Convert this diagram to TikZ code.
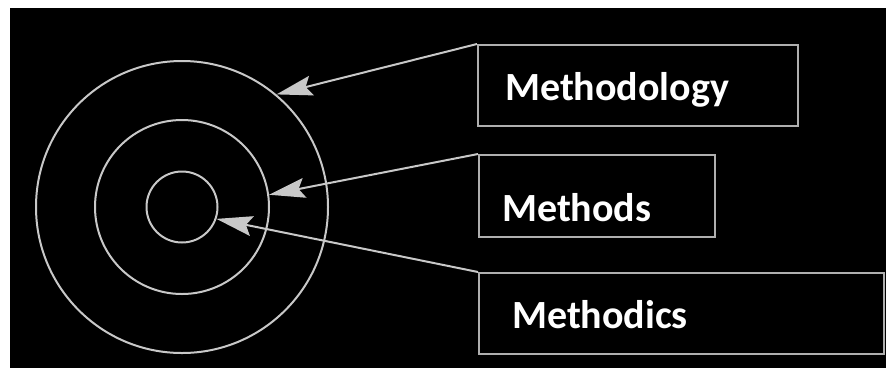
\documentclass[tikz,border=0pt]{standalone}
\usepackage{fontspec}
\setmainfont{Carlito}
\usetikzlibrary{arrows.meta}
\definecolor{ringgray}{RGB}{200,200,200}
\definecolor{boxgray}{RGB}{175,175,175}
\tikzset{
  ring/.style={draw=ringgray, line width=2pt, circle, inner sep=0pt},
  labelbox/.style={draw=boxgray, line width=2pt, rectangle, inner sep=0pt, anchor=north west},
  labeltext/.style={text=white, font=\bfseries\fontsize{40}{40}\selectfont, anchor=base west, inner sep=0pt},
  pointer/.style={draw=ringgray, line width=2pt, -{Stealth[length=36pt, width=20pt, inset=6pt, fill=ringgray]}}
}
\begin{document}
\begin{tikzpicture}[x=1pt, y=-1pt]
  \useasboundingbox (0,0) rectangle (886,368);
  \fill[white] (0,0) rectangle (886,368);
  \fill[black] (10,8) rectangle (886,368);

  \coordinate (c) at (182,207);
  \node[ring, minimum size=292pt] (outer) at (c) {};
  \node[ring, minimum size=174pt] (middle) at (c) {};
  \node[ring, minimum size=71pt] (inner) at (c) {};

  \node[labelbox, minimum width=320pt, minimum height=81pt] (b1) at (477,44) {};
  \node[labelbox, minimum width=236pt, minimum height=82pt] (b2) at (478,154) {};
  \node[labelbox, minimum width=405pt, minimum height=81pt] (b3) at (478,272) {};

  \node[labeltext] (t1) at (505,100.5) {Methodology};
  \node[labeltext] (t2) at (502,221.5) {Methods};
  \node[labeltext] (t3) at (512,328) {Methodics};

  \draw[pointer] (b1.north west) -- (outer.50);
  \draw[pointer] (b2.north west) -- (middle.8);
  \draw[pointer] (b3.north west) -- (inner.-19);
\end{tikzpicture}
\end{document}
